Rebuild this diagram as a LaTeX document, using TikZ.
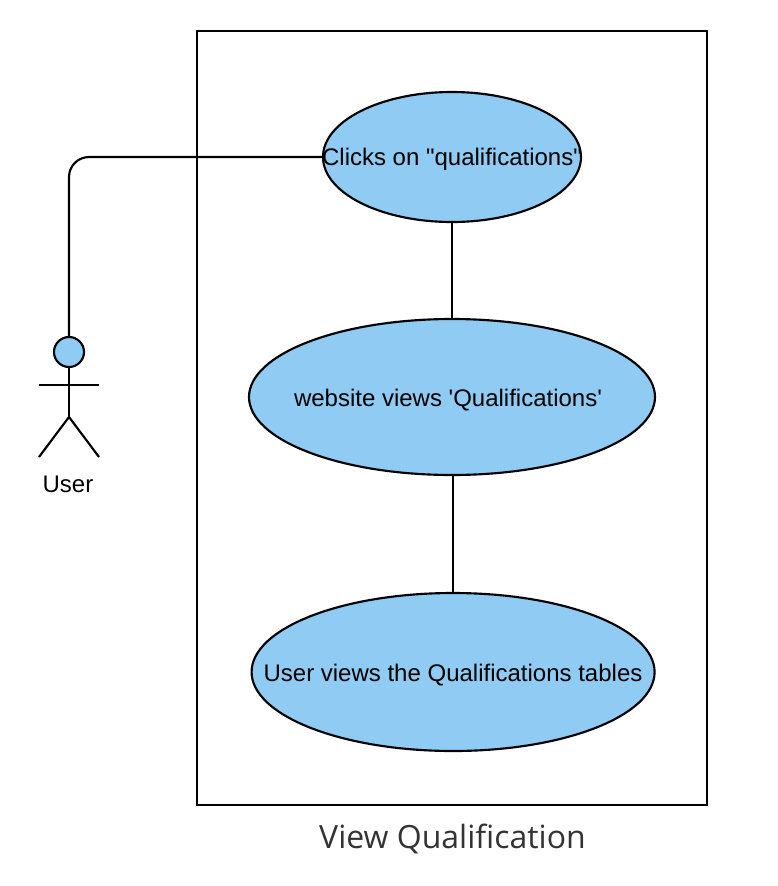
\documentclass[tikz,border=0pt]{standalone}
\usepackage{fontspec}
\setmainfont[Ligatures=TeXOff]{Liberation Sans}
\newfontfamily\opensans{Open Sans}
\usetikzlibrary{shapes.geometric}
\definecolor{ucfill}{HTML}{8FCBF2}
\tikzset{
 ucase/.style={ellipse,draw=black,fill=ucfill,line width=1.6pt,inner sep=0pt,outer sep=0pt},
 uctext/.style={font=\fontsize{18}{20}\selectfont},
 conn/.style={draw=black,line width=1.6pt},
}
\begin{document}
\begin{tikzpicture}[x=0.75pt,y=-0.75pt]
\useasboundingbox (0,0) rectangle (778,886);
\fill[white] (0,0) rectangle (778,886);
\node[draw=black,line width=1.6pt,minimum width=382.5pt,minimum height=580.5pt,inner sep=0pt,outer sep=0pt] (sys) at (452,418) {};
\node[ucase,minimum width=193.5pt,minimum height=97.5pt] (a) at (452,157) {};
\node[ucase,minimum width=304.5pt,minimum height=117pt] (b) at (452,397) {};
\node[ucase,minimum width=302.25pt,minimum height=118.5pt] (c) at (453.1,672) {};
\node[uctext] (at) at (452,159.5) {Clicks on "qualifications"};
\node[uctext] (bt) at (448,400.5) {website views 'Qualifications'};
\node[uctext] (ct) at (453,675.5) {User views the Qualifications tables};
\node[font=\opensans\fontsize{24}{26}\selectfont,text=black!80] (title) at (452.5,838.5) {View Qualification};
\node[circle,draw=black,fill=ucfill,line width=1.6pt,minimum size=22.5pt,inner sep=0pt,outer sep=0pt] (head) at (69,352) {};
\coordinate (neck) at (69,417);
\coordinate (lf) at (39,457);
\coordinate (rf) at (99,457);
\coordinate (al) at (39,384.7);
\coordinate (ar) at (99,384.7);
\draw[conn] (head.south) -- (neck);
\draw[conn] (al) -- (ar);
\draw[conn] (lf) -- (neck) -- (rf);
\node[uctext] (ulabel) at (68,484.5) {User};
\draw[conn,rounded corners=15pt] (head.north) |- (a.west);
\draw[conn] (a.south) -- (b.north);
\draw[conn] (b.south -| c.north) -- (c.north);
\end{tikzpicture}
\end{document}
